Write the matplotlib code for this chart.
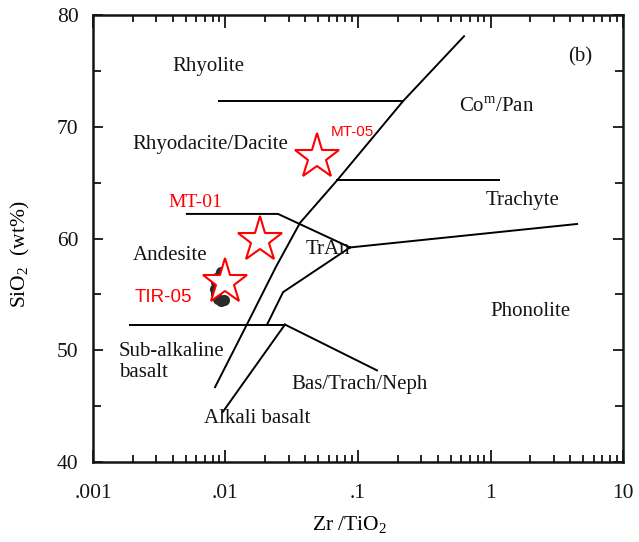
import matplotlib
matplotlib.use('Agg')
import matplotlib.pyplot as plt
from matplotlib.ticker import FixedLocator, LogLocator, MultipleLocator, NullFormatter

plt.rcParams['font.family'] = 'Liberation Serif'
plt.rcParams['mathtext.fontset'] = 'custom'
plt.rcParams['mathtext.rm'] = 'Liberation Serif'

# field boundaries (Zr/TiO2, SiO2)
rhy_x, rhy_y = [0.0089, 0.219], [72.3, 72.3]
main_x = [0.631, 0.219, 0.0695, 0.0365, 0.0240, 0.0145, 0.00834]
main_y = [78.1, 72.3, 65.2, 61.4, 57.45, 52.3, 46.7]
trach_x, trach_y = [0.0695, 1.16], [65.2, 65.2]
and_x, and_y = [0.00511, 0.0249, 0.0871], [62.2, 62.2, 59.2]
phon_x, phon_y = [0.0871, 4.50], [59.2, 61.3]
tran_x, tran_y = [0.0871, 0.0272, 0.0206], [59.2, 55.2, 52.3]
bas_x, bas_y = [0.00190, 0.0281], [52.3, 52.3]
neph_x, neph_y = [0.0281, 0.139], [52.3, 48.2]
alk_x, alk_y = [0.0281, 0.00957], [52.3, 44.5]

# field names
fields = ['Rhyolite', 'Rhyodacite/Dacite', 'Andesite', 'Co$^\\mathregular{m}$/Pan',
          'Trachyte', 'TrAn', 'Phonolite', 'Bas/Trach/Neph', 'Alkali basalt', '(b)']
field_x = [0.00738, 0.00764, 0.00381, 1.12, 1.76, 0.0594, 1.99, 0.1035, 0.0173, 4.73]
field_y = [75.4, 68.4, 58.5, 71.7, 63.4, 59.0, 53.5, 46.9, 43.9, 76.3]

# dark cluster of published data points
blob_x = [0.0092, 0.0088, 0.0085, 0.0084, 0.0085, 0.0088, 0.0093, 0.0097, 0.0090]
blob_y = [57.0, 56.6, 56.1, 55.5, 55.0, 54.6, 54.4, 54.5, 55.8]

# samples
samples = ['MT-05', 'MT-01', 'TIR-05']
sample_x = [0.0491, 0.0182, 0.00991]
sample_y = [67.3, 59.9, 56.1]
label_x = [0.0902, 0.00589, 0.00337]
label_y = [69.5, 63.2, 54.7]
label_font = ['Liberation Sans', 'Liberation Serif', 'Liberation Sans']
label_size = [11, 14, 13.5]

xticks = [0.001, 0.01, 0.1, 1, 10]
xtick_labels = ['.001', '.01', '.1', '1', '10']
yticks = [40, 50, 60, 70, 80]

fig = plt.figure(figsize=(6.39, 5.42), dpi=100)
ax = fig.add_axes([0.1455, 0.1476, 0.8295, 0.8247])
ax.set_xscale('log')
ax.set_xlim(0.001, 10)
ax.set_ylim(40, 80)

ink = '#141414'
lw = 1.4
for xs, ys in [(rhy_x, rhy_y), (main_x, main_y), (trach_x, trach_y), (and_x, and_y),
               (phon_x, phon_y), (tran_x, tran_y), (bas_x, bas_y), (neph_x, neph_y),
               (alk_x, alk_y)]:
    ax.plot(xs, ys, color='black', lw=lw, solid_joinstyle='miter')

fs = 15
for name, x, y in zip(fields, field_x, field_y):
    ax.text(x, y, name, ha='center', va='center', fontsize=fs, color=ink)
ax.text(0.00157, 48.95, 'Sub-alkaline\nbasalt', ha='left', va='center',
        fontsize=fs, color=ink, linespacing=1.15)

ax.plot(blob_x, blob_y, 'o', ms=8, color='#2b2b2b', mec='none', zorder=3)

ax.plot(sample_x, sample_y, '*', ms=34, mfc='white', mec='red', mew=1.5,
        linestyle='none', zorder=4)
for s, x, y, f, sz in zip(samples, label_x, label_y, label_font, label_size):
    ax.text(x, y, s, ha='center', va='center', color='red', fontsize=sz, family=f)

ax.xaxis.set_major_locator(FixedLocator(xticks))
ax.set_xticklabels(xtick_labels)
ax.xaxis.set_minor_locator(LogLocator(base=10, subs=range(2, 10), numticks=20))
ax.xaxis.set_minor_formatter(NullFormatter())
ax.set_yticks(yticks)
ax.yaxis.set_minor_locator(MultipleLocator(5))

ax.tick_params(which='both', direction='in', top=True, right=True,
               labelsize=15.5, width=1.3, colors=ink)
ax.tick_params(axis='x', which='major', length=9, pad=16)
ax.tick_params(axis='x', which='minor', length=5)
ax.tick_params(axis='y', which='major', length=7, pad=10.5)
ax.tick_params(axis='y', which='minor', length=6)
for sp in ax.spines.values():
    sp.set_linewidth(1.8)
    sp.set_color(ink)

ax.set_xlabel('Zr /TiO$_\\mathregular{2}$', fontsize=15.5)
ax.xaxis.set_label_coords(0.485, -0.117)
ax.set_ylabel('SiO$_\\mathregular{2}$  (wt%)', fontsize=15.5)
ax.yaxis.set_label_coords(-0.115, 0.465)

fig.savefig('out.png', dpi=100)
